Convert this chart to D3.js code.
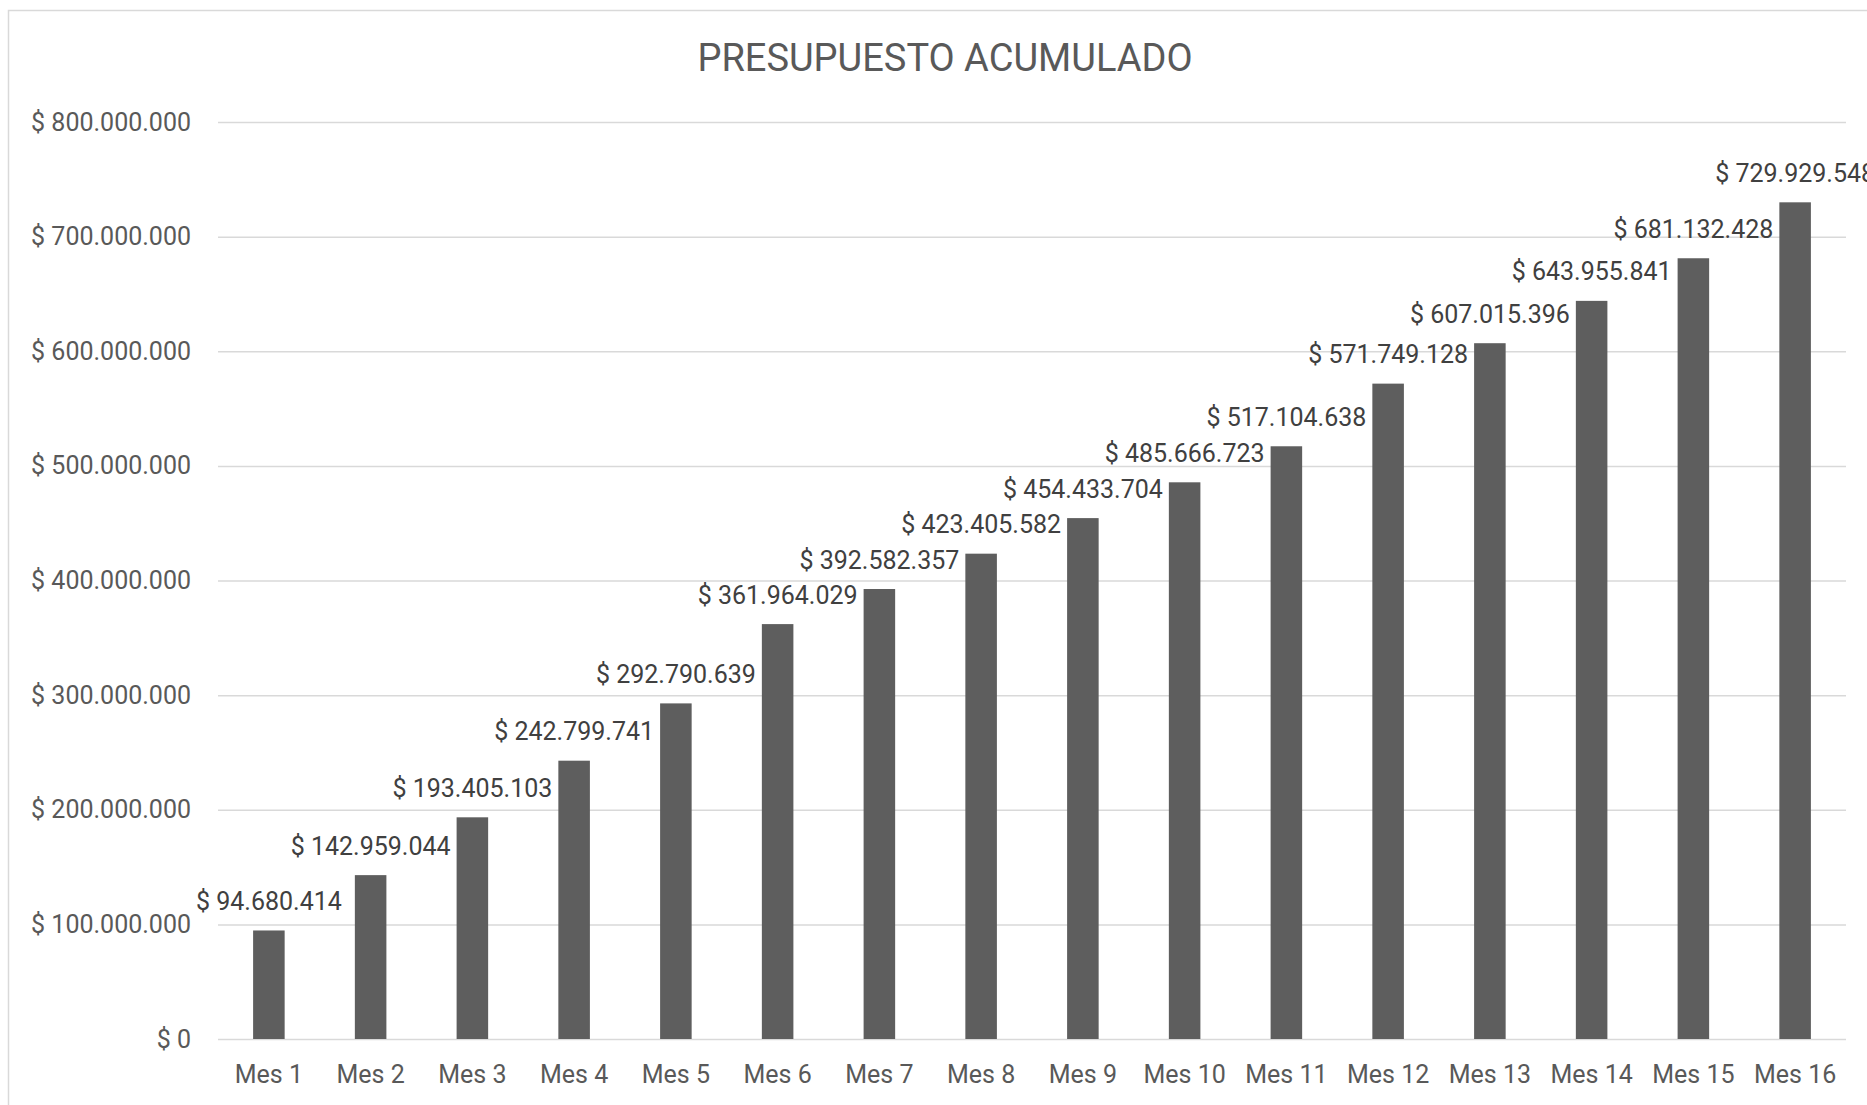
<!DOCTYPE html>
<html>
<head>
<meta charset="utf-8">
<script src="https://cdn.jsdelivr.net/npm/d3@7"></script>
<style>
  body { margin: 0; background: #fff; }
  svg { display: block; }
</style>
</head>
<body>
<svg width="1867" height="1105"></svg>
<script>
const months = ["Mes 1", "Mes 2", "Mes 3", "Mes 4", "Mes 5", "Mes 6", "Mes 7", "Mes 8",
  "Mes 9", "Mes 10", "Mes 11", "Mes 12", "Mes 13", "Mes 14", "Mes 15", "Mes 16"];
const budget = [94680414, 142959044, 193405103, 242799741, 292790639, 361964029, 392582357, 423405582,
  454433704, 485666723, 517104638, 571749128, 607015396, 643955841, 681132428, 729929548];
const yTicks = [0, 100000000, 200000000, 300000000, 400000000, 500000000, 600000000, 700000000, 800000000];
const title = "PRESUPUESTO ACUMULADO";

const font = "Roboto, 'Liberation Sans', sans-serif";

const locale = d3.formatLocale({ decimal: ",", thousands: ".", grouping: [3], currency: ["$ ", ""] });
const money = locale.format("$,.0f");

const svg = d3.select("svg");

// chart area border (cut off at right and bottom in the reference)
svg.append("rect")
  .attr("x", 8.5).attr("y", 10.5)
  .attr("width", 1900).attr("height", 1200)
  .attr("fill", "#fff")
  .attr("stroke", "#d9d9d9")
  .attr("stroke-width", 1.5);

const x = d3.scaleBand()
  .domain(months)
  .range([218, 1846])
  .paddingInner(0.69)
  .paddingOuter(0.345);

const y = d3.scaleLinear()
  .domain([0, 800000000])
  .range([1039, 122]);

svg.append("text")
  .attr("x", 945).attr("y", 58)
  .attr("text-anchor", "middle")
  .attr("dominant-baseline", "central")
  .style("font-family", font)
  .style("font-size", "38px")
  .style("fill", "#595959")
  .text(title);

// gridlines
const grid = svg.append("g")
  .attr("transform", "translate(218,0)")
  .call(d3.axisLeft(y).tickValues(yTicks).tickSize(-(1846 - 218)).tickFormat(""));
grid.select(".domain").remove();
grid.selectAll("line").attr("stroke", "#d9d9d9").attr("stroke-width", 1.5);

// y axis labels
const yAxis = svg.append("g")
  .attr("transform", "translate(191,0)")
  .call(d3.axisLeft(y).tickValues(yTicks).tickSize(0).tickPadding(0).tickFormat(money));
yAxis.select(".domain").remove();
yAxis.selectAll("text")
  .style("font-family", font)
  .style("font-size", "25px")
  .attr("fill", "#595959");

// x axis labels
const xAxis = svg.append("g")
  .attr("transform", "translate(0,1065)")
  .call(d3.axisBottom(x).tickSize(0).tickPadding(0));
xAxis.select(".domain").remove();
xAxis.selectAll("text")
  .style("font-family", font)
  .style("font-size", "25px")
  .attr("fill", "#595959");

svg.append("g")
  .selectAll("rect")
  .data(budget)
  .enter()
  .append("rect")
  .attr("x", (d, i) => x(months[i]))
  .attr("y", d => y(d))
  .attr("width", x.bandwidth())
  .attr("height", d => y(0) - y(d))
  .attr("fill", "#5e5e5e");

svg.append("g")
  .selectAll("text")
  .data(budget)
  .enter()
  .append("text")
  .attr("x", (d, i) => x(months[i]) + x.bandwidth() / 2)
  .attr("y", d => y(d) - 29)
  .attr("text-anchor", "middle")
  .attr("dominant-baseline", "central")
  .style("font-family", font)
  .style("font-size", "25px")
  .style("fill", "#404040")
  .text(d => money(d));
</script>
</body>
</html>
